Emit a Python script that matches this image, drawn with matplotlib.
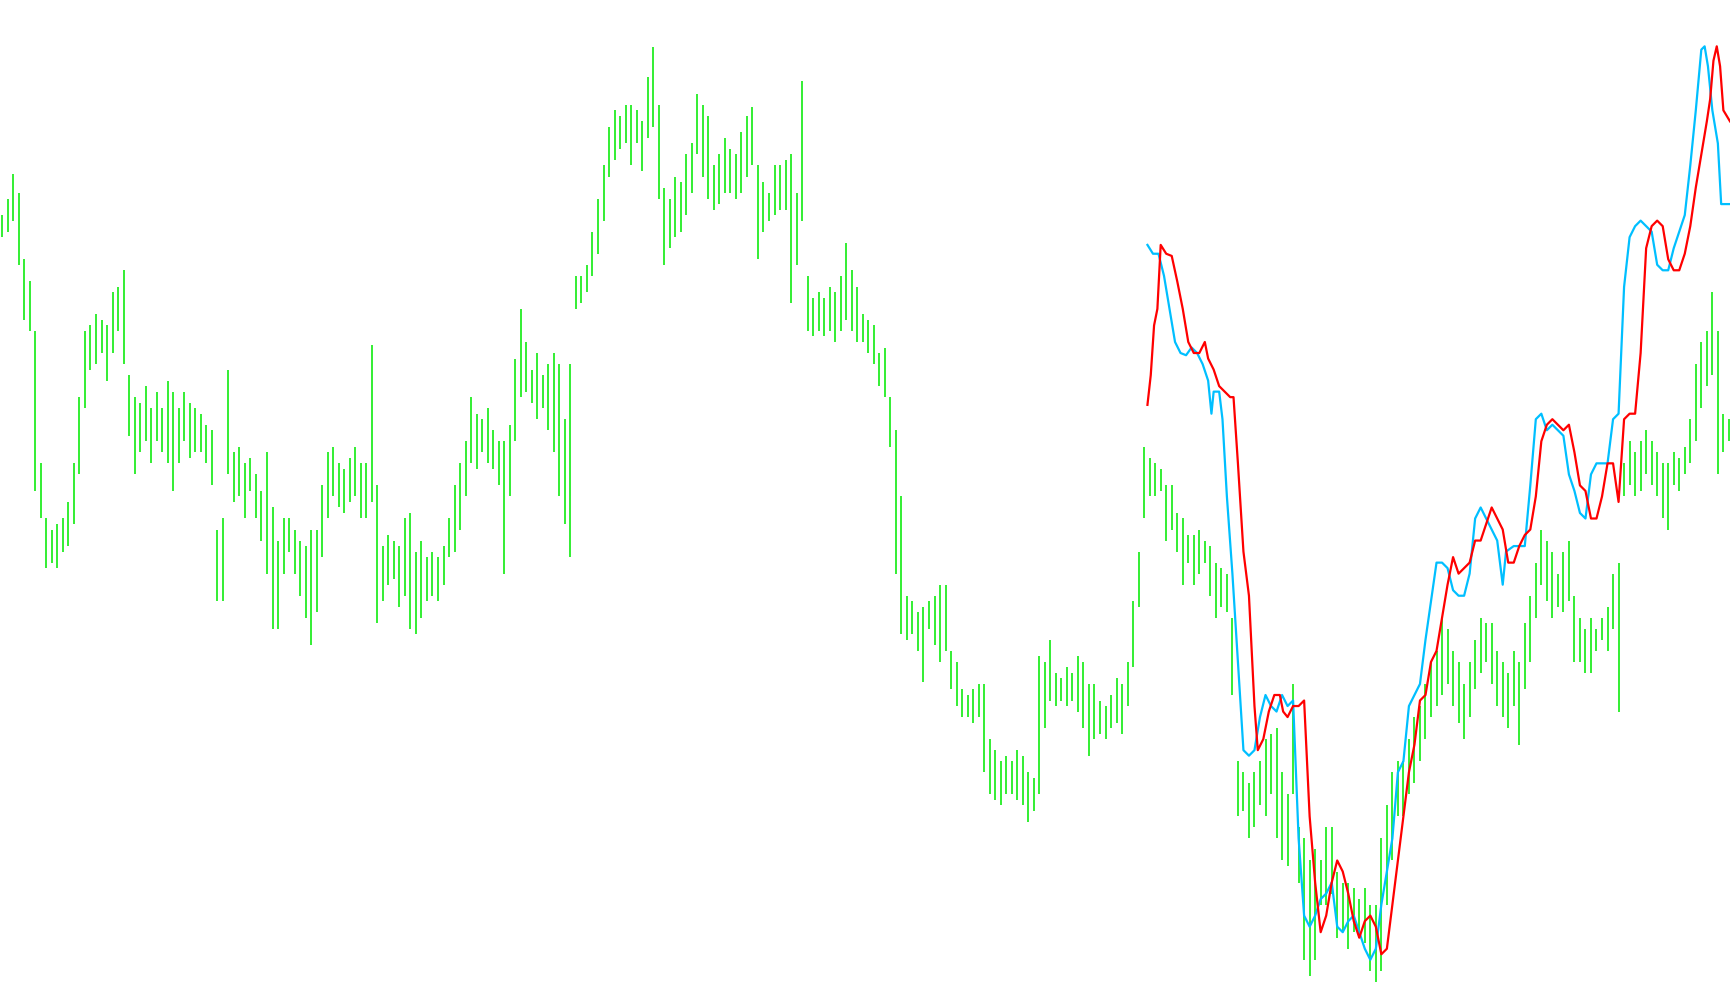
import numpy as np
import matplotlib
matplotlib.use("Agg")
import matplotlib.pyplot as plt

# bar ranges (top / bottom, screen units from the top)
bar_top = [
    195, 180, 158, 175, 235, 255, 300, 420, 470, 480,
    475, 470, 455, 420, 360, 300, 295, 285, 290, 295,
    265, 260, 245, 340, 360, 365, 350, 370, 355, 370,
    345, 355, 370, 355, 365, 370, 375, 385, 390, 480,
    470, 335, 410, 405, 420, 415, 430, 445, 410, 460,
    490, 470, 470, 480, 490, 495, 480, 480, 440, 410,
    405, 420, 425, 415, 405, 420, 420, 313, 440, 495,
    485, 490, 495, 470, 465, 500, 490, 505, 500, 505,
    495, 470, 440, 420, 400, 360, 375, 380, 370, 390,
    400, 400, 385, 325, 280, 310, 335, 320, 340, 330,
    320, 330, 380, 330, 250, 250, 240, 210, 180, 150,
    115, 100, 105, 95, 95, 100, 110, 70, 43, 95,
    170, 180, 160, 165, 140, 130, 85, 95, 105, 150,
    140, 125, 135, 140, 120, 105, 97, 150, 165, 175,
    150, 150, 145, 140, 175, 73, 250, 270, 265, 270,
    260, 265, 250, 220, 245, 260, 285, 290, 295, 320,
    315, 360, 390, 450, 540, 545, 555, 550, 545, 540,
    530, 530, 590, 600, 625, 630, 625, 620, 620, 670,
    680, 690, 685, 690, 680, 685, 700, 705, 595, 600,
    580, 610, 615, 605, 610, 595, 600, 620, 620, 635,
    640, 630, 615, 620, 600, 545, 500, 405, 415, 420,
    425, 440, 440, 465, 470, 485, 485, 480, 490, 495,
    510, 515, 520, 560, 690, 700, 710, 700, 690, 670,
    665, 660, 700, 720, 620, 750, 760, 780, 770, 780,
    750, 750, 790, 800, 800, 805, 815, 805, 820, 820,
    760, 730, 700, 690, 690, 670, 650, 640, 620, 600,
    590, 560, 570, 590, 600, 620, 600, 580, 560, 565,
    565, 590, 600, 610, 590, 600, 565, 540, 510, 480,
    490, 500, 520, 500, 490, 540, 560, 570, 560, 570,
    560, 550, 520, 510, 420, 400, 410, 400, 390, 400,
    410, 420, 420, 410, 415, 405, 380, 330, 310, 300,
    265, 300, 375, 380,
]
bar_bottom = [
    215, 210, 200, 240, 290, 300, 445, 470, 515, 510,
    515, 500, 495, 475, 430, 370, 335, 330, 320, 345,
    320, 300, 330, 395, 430, 410, 400, 420, 400, 410,
    420, 445, 420, 400, 415, 410, 410, 420, 440, 545,
    545, 430, 455, 450, 470, 445, 470, 490, 520, 570,
    570, 520, 500, 520, 540, 560, 585, 555, 505, 470,
    450, 460, 465, 455, 450, 470, 470, 455, 565, 545,
    530, 525, 550, 540, 570, 575, 560, 545, 540, 545,
    530, 505, 500, 480, 450, 420, 425, 410, 420, 425,
    440, 520, 450, 400, 360, 355, 365, 380, 370, 390,
    410, 450, 475, 505, 280, 275, 265, 250, 230, 200,
    160, 145, 135, 130, 150, 130, 155, 125, 115, 180,
    240, 225, 215, 210, 195, 175, 140, 160, 180, 190,
    185, 175, 175, 180, 175, 160, 150, 235, 210, 200,
    195, 190, 190, 275, 240, 200, 300, 305, 300, 305,
    300, 310, 300, 290, 300, 310, 310, 320, 330, 350,
    360, 405, 520, 575, 580, 575, 590, 618, 570, 585,
    600, 590, 625, 640, 650, 650, 655, 650, 700, 720,
    725, 730, 720, 720, 725, 730, 745, 735, 720, 660,
    635, 640, 635, 640, 635, 645, 660, 685, 670, 665,
    670, 660, 655, 665, 640, 605, 550, 470, 450, 450,
    445, 490, 480, 500, 530, 510, 530, 520, 510, 540,
    560, 550, 555, 630, 740, 735, 760, 750, 730, 740,
    720, 760, 780, 785, 720, 800, 870, 885, 870, 820,
    820, 810, 850, 845, 860, 845, 850, 855, 880, 890,
    880, 820, 780, 740, 740, 720, 710, 690, 670, 650,
    640, 630, 620, 640, 655, 670, 650, 625, 610, 600,
    620, 640, 650, 660, 640, 675, 625, 600, 560, 530,
    545, 560, 550, 555, 545, 600, 600, 610, 610, 590,
    580, 590, 570, 645, 450, 440, 450, 445, 430, 440,
    450, 470, 480, 440, 445, 430, 420, 400, 370, 350,
    340, 430, 410, 400,
]

blue_x = [
    1040, 1045, 1050, 1055, 1060, 1065, 1070, 1075, 1080, 1085,
    1090, 1095, 1098, 1100, 1105, 1108, 1112, 1117, 1122, 1127,
    1132, 1137, 1142, 1147, 1152, 1157, 1162, 1167, 1172, 1177,
    1182, 1187, 1192, 1197, 1202, 1207, 1212, 1217, 1222, 1227,
    1232, 1237, 1242, 1247, 1252, 1257, 1262, 1267, 1272, 1277,
    1282, 1287, 1292, 1297, 1302, 1307, 1312, 1317, 1322, 1327,
    1332, 1337, 1342, 1347, 1352, 1357, 1362, 1365, 1372, 1377,
    1382, 1387, 1392, 1397, 1402, 1407, 1412, 1417, 1422, 1427,
    1432, 1437, 1442, 1447, 1452, 1457, 1462, 1467, 1472, 1477,
    1482, 1487, 1492, 1497, 1502, 1507, 1512, 1517, 1522, 1527,
    1532, 1537, 1542, 1545, 1548, 1552, 1557, 1560, 1568,
]
blue_y = [
    222, 230, 230, 250, 280, 310, 320, 322, 315, 320,
    330, 345, 375, 355, 355, 380, 450, 520, 600, 680,
    685, 680, 650, 630, 640, 645, 630, 640, 635, 760,
    830, 840, 830, 815, 810, 800, 840, 845, 835, 830,
    845, 860, 870, 860, 820, 790, 760, 700, 690, 640,
    630, 620, 580, 545, 510, 510, 515, 535, 540, 540,
    520, 470, 460, 470, 480, 490, 530, 500, 495, 495,
    495, 440, 380, 375, 390, 385, 390, 395, 430, 445,
    465, 470, 430, 420, 420, 420, 380, 375, 260, 215,
    205, 200, 205, 210, 240, 245, 245, 225, 210, 195,
    150, 100, 45, 42, 60, 100, 130, 185, 185,
]

red_x = [
    1040, 1043, 1046, 1049, 1052, 1057, 1062, 1067, 1072, 1077,
    1082, 1087, 1092, 1095, 1100, 1105, 1110, 1115, 1118, 1122,
    1127, 1132, 1137, 1140, 1145, 1150, 1155, 1160, 1163, 1167,
    1172, 1177, 1182, 1187, 1192, 1197, 1202, 1207, 1212, 1217,
    1222, 1227, 1232, 1237, 1242, 1247, 1252, 1257, 1262, 1267,
    1272, 1277, 1282, 1287, 1292, 1297, 1302, 1307, 1312, 1317,
    1322, 1327, 1332, 1337, 1342, 1347, 1352, 1357, 1362, 1367,
    1372, 1377, 1382, 1387, 1392, 1397, 1402, 1407, 1412, 1417,
    1422, 1427, 1432, 1437, 1442, 1447, 1452, 1457, 1462, 1467,
    1472, 1477, 1482, 1487, 1492, 1497, 1502, 1507, 1512, 1517,
    1522, 1527, 1532, 1537, 1542, 1547, 1550, 1553, 1556, 1559,
    1562, 1568,
]
red_y = [
    367, 340, 295, 280, 222, 230, 232, 255, 280, 310,
    320, 320, 310, 325, 335, 350, 355, 360, 360, 420,
    500, 540, 640, 680, 670, 645, 630, 630, 645, 650,
    640, 640, 635, 740, 800, 845, 830, 800, 780, 790,
    810, 835, 850, 835, 830, 840, 865, 860, 820, 780,
    740, 700, 675, 635, 630, 600, 590, 560, 530, 505,
    520, 515, 510, 490, 490, 475, 460, 470, 480, 510,
    510, 495, 485, 480, 450, 400, 385, 380, 385, 390,
    385, 410, 440, 445, 470, 470, 450, 420, 420, 455,
    380, 375, 375, 320, 225, 205, 200, 205, 235, 245,
    245, 230, 205, 170, 140, 110, 90, 55, 42, 60,
    100, 110,
]

bar_x = 2 + 5 * np.arange(len(bar_top))

fig = plt.figure(figsize=(17.3, 10.05), dpi=100)
ax = fig.add_axes([0, 0, 1, 1])
ax.vlines(bar_x, bar_top, bar_bottom, colors="#33EE33", linewidth=1.4)
ax.plot(blue_x, blue_y, color="#00BFFF", linewidth=1.6)
ax.plot(red_x, red_y, color="#FF0000", linewidth=1.6)
ax.set_xlim(0, 1568)
ax.set_ylim(911, 0)
ax.axis("off")
fig.savefig("out.png", dpi=100, facecolor="white")
